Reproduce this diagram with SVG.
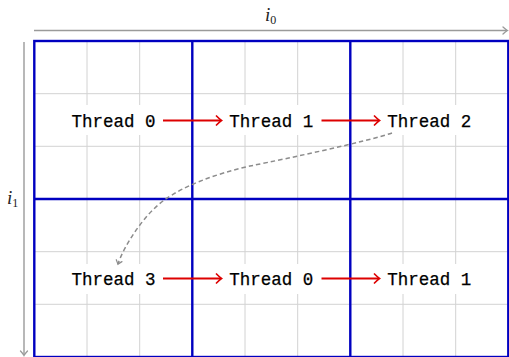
<svg xmlns="http://www.w3.org/2000/svg" width="509" height="357" viewBox="0 0 509 357">
  <style>
    .grid { stroke: #d2d2d2; stroke-width: 1; fill: none; }
    .block { stroke: #0000c0; stroke-width: 2.4; fill: none; }
    .axis { stroke: #9a9a9a; stroke-width: 1.4; fill: none; }
    .box { fill: #ffffff; stroke: none; }
    .label { font-family: "Liberation Mono", "DejaVu Sans Mono", monospace; font-size: 17.5px; fill: #000; stroke: #000; stroke-width: 0.25; text-anchor: middle; }
    .idx { font-family: "Liberation Serif", "DejaVu Serif", serif; font-style: italic; font-size: 19px; fill: #222; }
    .sub { font-family: "Liberation Serif", "DejaVu Serif", serif; font-style: normal; font-size: 12px; fill: #222; }
    .next { stroke: #dd0000; stroke-width: 1.9; fill: none; marker-end: url(#redhead); }
    .hop { stroke: #8c8c8c; stroke-width: 1.5; stroke-dasharray: 4.5 3; fill: none; marker-end: url(#greyhead); }
  </style>
  <defs>
    <marker id="redhead" viewBox="-6 -6 8 12" markerWidth="8" markerHeight="12" refX="0" refY="0" orient="auto" markerUnits="userSpaceOnUse">
      <path d="M-4.5,-4.5 Q-1,-1 0.5,0 Q-1,1 -4.5,4.5" stroke="#dd0000" stroke-width="1.7" fill="none" stroke-linecap="round"/>
    </marker>
    <marker id="greyhead" viewBox="-6 -6 8 12" markerWidth="8" markerHeight="12" refX="0" refY="0" orient="auto" markerUnits="userSpaceOnUse">
      <path d="M-3.5,-3 Q-1,-0.8 0.3,0 Q-1,0.8 -3.5,3" stroke="#8c8c8c" stroke-width="1.2" fill="none" stroke-linecap="round"/>
    </marker>
    <marker id="axishead" viewBox="-6 -6 8 12" markerWidth="8" markerHeight="12" refX="0" refY="0" orient="auto" markerUnits="userSpaceOnUse">
      <path d="M-4,-3.5 Q-1,-0.8 0.5,0 Q-1,0.8 -4,3.5" stroke="#9a9a9a" stroke-width="1.3" fill="none" stroke-linecap="round"/>
    </marker>
  </defs>

  <!-- fine grid -->
  <g id="grid">
    <path class="grid" d="M87,41V357 M139.7,41V357 M245,41V357 M297.7,41V357 M403,41V357 M455.7,41V357
                          M34,93.7H508 M34,146.3H508 M34,251.7H508 M34,304.3H508"/>
  </g>

  <!-- block boundaries -->
  <g id="blocks">
    <rect class="block" x="34.3" y="41" width="474" height="316"/>
    <path class="block" d="M192.3,41V357 M350.3,41V357 M34.3,199H508.3"/>
  </g>

  <!-- index axes -->
  <g id="axes">
    <path class="axis" d="M34,30.5H507" marker-end="url(#axishead)"/>
    <path class="axis" d="M24,42V355" marker-end="url(#axishead)"/>
    <text class="idx" x="265" y="21">i<tspan class="sub" dy="3">0</tspan></text>
    <text class="idx" x="7" y="204">i<tspan class="sub" dy="3">1</tspan></text>
  </g>

  <!-- thread nodes -->
  <g id="t0a"><rect class="box" x="64" y="105" width="99" height="30"/><text class="label" x="113.4" y="126.5">Thread 0</text></g>
  <g id="t1a"><rect class="box" x="222" y="105" width="99" height="30"/><text class="label" x="271.3" y="126.5">Thread 1</text></g>
  <g id="t2a"><rect class="box" x="380" y="105" width="99" height="30"/><text class="label" x="429.3" y="126.5">Thread 2</text></g>
  <g id="t3b"><rect class="box" x="64" y="264" width="99" height="30"/><text class="label" x="113.4" y="284.5">Thread 3</text></g>
  <g id="t0b"><rect class="box" x="222" y="264" width="99" height="30"/><text class="label" x="271.3" y="284.5">Thread 0</text></g>
  <g id="t1b"><rect class="box" x="380" y="264" width="99" height="30"/><text class="label" x="429.3" y="284.5">Thread 1</text></g>

  <!-- connectors -->
  <g id="connectors">
    <path class="next" d="M163,120.5H221"/>
    <path class="next" d="M321.5,120.5H379"/>
    <path class="next" d="M163,278.5H221"/>
    <path class="next" d="M321.5,278.5H379"/>
    <path class="hop" d="M392,133 C365,142 290,158 250,166 C215,174 183,186 163,201 C143,216 124,246 118,264"/>
  </g>
</svg>
